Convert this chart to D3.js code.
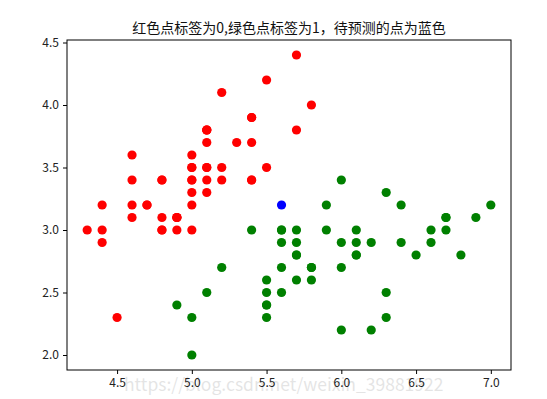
<!DOCTYPE html>
<html>
<head>
<meta charset="utf-8">
<script src="https://cdn.jsdelivr.net/npm/d3@7"></script>
<style>
  body { margin: 0; background: #fff; }
  text { font-family: "Noto Sans CJK SC", "DejaVu Sans", sans-serif; }
</style>
</head>
<body>
<svg id="chart" width="547" height="399"></svg>
<script>
// label 0 (setosa): sepal length, sepal width
const redX = [5.1,4.9,4.7,4.6,5.0,5.4,4.6,5.0,4.4,4.9,5.4,4.8,4.8,4.3,5.8,5.7,5.4,5.1,5.7,5.1,
              5.4,5.1,4.6,5.1,4.8,5.0,5.0,5.2,5.2,4.7,4.8,5.4,5.2,5.5,4.9,5.0,5.5,4.9,4.4,5.1,
              5.0,4.5,4.4,5.0,5.1,4.8,5.1,4.6,5.3,5.0];
const redY = [3.5,3.0,3.2,3.1,3.6,3.9,3.4,3.4,2.9,3.1,3.7,3.4,3.0,3.0,4.0,4.4,3.9,3.5,3.8,3.8,
              3.4,3.7,3.6,3.3,3.4,3.0,3.4,3.5,3.4,3.2,3.1,3.4,4.1,4.2,3.1,3.2,3.5,3.1,3.0,3.4,
              3.5,2.3,3.2,3.5,3.8,3.0,3.8,3.2,3.7,3.3];
// label 1 (versicolor)
const greenX = [7.0,6.4,6.9,5.5,6.5,5.7,6.3,4.9,6.6,5.2,5.0,5.9,6.0,6.1,5.6,6.7,5.6,5.8,6.2,5.6,
                5.9,6.1,6.3,6.1,6.4,6.6,6.8,6.7,6.0,5.7,5.5,5.5,5.8,6.0,5.4,6.0,6.7,6.3,5.6,5.5,
                5.5,6.1,5.8,5.0,5.6,5.7,5.7,6.2,5.1,5.7];
const greenY = [3.2,3.2,3.1,2.3,2.8,2.8,3.3,2.4,2.9,2.7,2.0,3.0,2.2,2.9,2.9,3.1,3.0,2.7,2.2,2.5,
                3.2,2.8,2.5,2.8,2.9,3.0,2.8,3.0,2.9,2.6,2.4,2.4,2.7,2.7,3.0,3.4,3.1,2.3,3.0,2.5,
                2.6,3.0,2.6,2.3,2.7,3.0,2.9,2.9,2.5,2.8];
// point to predict
const blueX = [5.6];
const blueY = [3.2];

const xTicks = [4.5, 5.0, 5.5, 6.0, 6.5, 7.0];
const yTicks = [2.0, 2.5, 3.0, 3.5, 4.0, 4.5];
const title = "红色点标签为0,绿色点标签为1，待预测的点为蓝色";

const svg = d3.select('#chart');
const plotLeft = 67, plotRight = 511, plotTop = 40, plotBottom = 370;

const x = d3.scaleLinear().domain([4.165, 7.135]).range([plotLeft, plotRight]);
const y = d3.scaleLinear().domain([1.88, 4.52]).range([plotBottom, plotTop]);

// axes
svg.append('g')
    .attr('transform', `translate(0,${plotBottom})`)
    .call(d3.axisBottom(x).tickValues(xTicks).tickFormat(d3.format('.1f')).tickSizeOuter(0).tickSize(4).tickPadding(4))
    .call(g => g.select('.domain').remove())
    .call(g => g.selectAll('text').attr('font-size', 12).attr('fill', '#222'))
    .call(g => g.selectAll('line').attr('stroke', '#000'));

svg.append('g')
    .attr('transform', `translate(${plotLeft},0)`)
    .call(d3.axisLeft(y).tickValues(yTicks).tickFormat(d3.format('.1f')).tickSizeOuter(0).tickSize(4).tickPadding(4))
    .call(g => g.select('.domain').remove())
    .call(g => g.selectAll('text').attr('font-size', 12).attr('fill', '#222'))
    .call(g => g.selectAll('line').attr('stroke', '#000'));

// points
function drawPoints(xs, ys, color) {
    svg.append('g').selectAll('circle')
        .data(xs.map((v, i) => [v, ys[i]]))
        .join('circle')
        .attr('cx', d => x(d[0]))
        .attr('cy', d => y(d[1]))
        .attr('r', 4.6)
        .attr('fill', color);
}
drawPoints(redX, redY, '#ff0000');
drawPoints(greenX, greenY, '#008000');
drawPoints(blueX, blueY, '#0000ff');

// frame
svg.append('rect')
    .attr('x', plotLeft).attr('y', plotTop)
    .attr('width', plotRight - plotLeft).attr('height', plotBottom - plotTop)
    .attr('fill', 'none').attr('stroke', '#000').attr('stroke-width', 1);

// title
svg.append('text')
    .attr('x', (plotLeft + plotRight) / 2)
    .attr('y', 33)
    .attr('text-anchor', 'middle')
    .attr('font-size', 14)
    .attr('fill', '#111')
    .text(title);

// watermark (faint, as in the source image)
svg.append('text')
    .attr('x', 124)
    .attr('y', 391)
    .attr('font-family', '"Liberation Mono", monospace')
    .attr('font-size', 17.5)
    .attr('fill', '#000')
    .attr('opacity', 0.1)
    .text('https://blog.csdn.net/weixin_39881922');
</script>
</body>
</html>
